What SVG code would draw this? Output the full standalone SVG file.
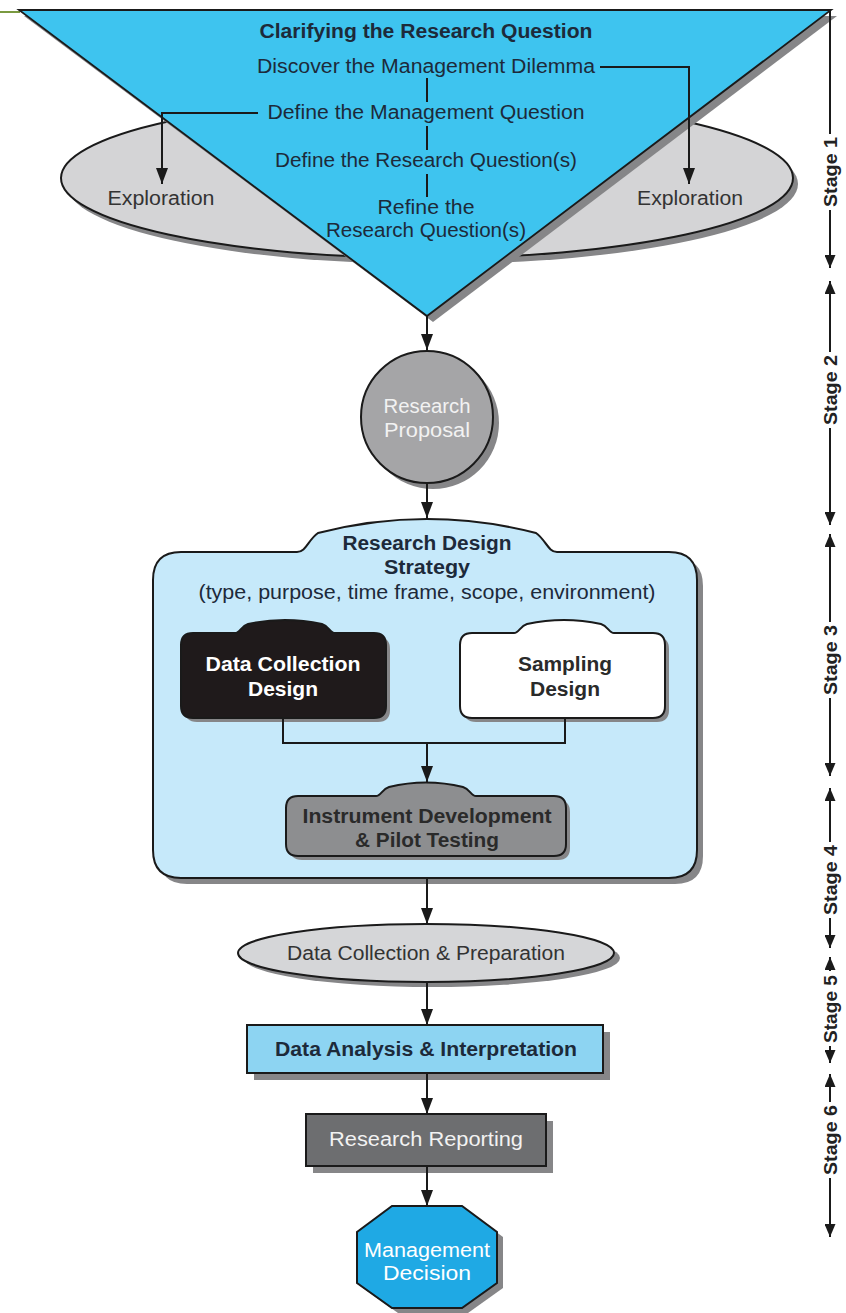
<svg xmlns="http://www.w3.org/2000/svg" width="846" height="1313" viewBox="0 0 846 1313">
<style>
  .t { font-family: "Liberation Sans", Arial, sans-serif; font-size: 20px; text-anchor: middle; }
  .b { font-weight: bold; }
  .navy { fill: #1d2a3a; }
  .dark { fill: #2a2a2a; }
  .light { fill: #f2f2f2; }
  .ln { stroke: #1a1a1a; stroke-width: 2; fill: none; }
  .edge { stroke: #1a1a1a; stroke-width: 2; }
  .shadow { fill: #868688; }
  .stg { font-family: "Liberation Sans", Arial, sans-serif; font-size: 19px; font-weight: bold; text-anchor: middle; fill: #222; }
</style>
<defs>
  <marker id="ah" viewBox="0 0 16 12" markerWidth="16" markerHeight="12" refX="16" refY="6" orient="auto" markerUnits="userSpaceOnUse">
    <path d="M0,0 L16,6 L0,12 Z" fill="#1a1a1a"/>
  </marker>
  <marker id="sh" viewBox="0 0 13 11" markerWidth="13" markerHeight="11" refX="13" refY="5.5" orient="auto" markerUnits="userSpaceOnUse">
    <path d="M0,0 L13,5.5 L0,11 Z" fill="#1a1a1a"/>
  </marker>
</defs>
<rect width="846" height="1313" fill="#ffffff"/>
<line x1="0" y1="12" x2="20" y2="12" stroke="#7a9a40" stroke-width="2"/>

<g id="exploration">
  <ellipse cx="432" cy="184" rx="366" ry="80" class="shadow"/>
  <ellipse cx="427" cy="178" rx="366" ry="80" fill="#d4d4d6" class="edge"/>
  <text class="t" x="161" y="205" textLength="107" lengthAdjust="spacingAndGlyphs" fill="#333">Exploration</text>
  <text class="t" x="690" y="205" textLength="106" lengthAdjust="spacingAndGlyphs" fill="#333">Exploration</text>
</g>

<g id="clarifying">
  <polygon points="24,16 837,16 433,322" class="shadow"/>
  <polygon points="19,10 831,10 427,316" fill="#3ec4ef" stroke="#1a1a1a" stroke-width="1.8" stroke-linejoin="miter"/>
  <text class="t b navy" x="426" y="38" font-size="19" textLength="333" lengthAdjust="spacingAndGlyphs">Clarifying the Research Question</text>
  <text class="t navy" x="426" y="73" textLength="338" lengthAdjust="spacingAndGlyphs">Discover the Management Dilemma</text>
  <text class="t navy" x="426" y="119" textLength="317" lengthAdjust="spacingAndGlyphs">Define the Management Question</text>
  <text class="t navy" x="426" y="167" textLength="302" lengthAdjust="spacingAndGlyphs">Define the Research Question(s)</text>
  <text class="t navy" x="426" y="214" textLength="97" lengthAdjust="spacingAndGlyphs">Refine the</text>
  <text class="t navy" x="426" y="237" textLength="200" lengthAdjust="spacingAndGlyphs">Research Question(s)</text>
</g>

<g id="research-proposal">
  <circle cx="433" cy="423" r="66" class="shadow"/>
  <circle cx="427" cy="417" r="66" fill="#a5a5a7" class="edge"/>
  <text class="t light" x="427" y="413" textLength="87" lengthAdjust="spacingAndGlyphs">Research</text>
  <text class="t light" x="427" y="437" textLength="86" lengthAdjust="spacingAndGlyphs">Proposal</text>
</g>

<g id="research-design-strategy">
  <path transform="translate(6,6)" class="shadow" d="M181,552 H297 C306,552 308,540 318,533 Q427,505 536,533 C546,540 548,552 557,552 H669 Q697,552 697,580 V850 Q697,878 669,878 H181 Q153,878 153,850 V580 Q153,552 181,552 Z"/>
  <path fill="#c6e9fa" class="edge" d="M181,552 H297 C306,552 308,540 318,533 Q427,505 536,533 C546,540 548,552 557,552 H669 Q697,552 697,580 V850 Q697,878 669,878 H181 Q153,878 153,850 V580 Q153,552 181,552 Z"/>
  <text class="t b navy" x="427" y="550" textLength="169" lengthAdjust="spacingAndGlyphs">Research Design</text>
  <text class="t b navy" x="427" y="574" textLength="86" lengthAdjust="spacingAndGlyphs">Strategy</text>
  <text class="t navy" x="427" y="599" textLength="457" lengthAdjust="spacingAndGlyphs">(type, purpose, time frame, scope, environment)</text>
</g>

<g id="data-collection-design">
  <path transform="translate(4,4)" class="shadow" d="M193,633 H235 C240,633 241,626 248,624 Q285,616 322,624 C329,626 330,633 335,633 H374 Q386,633 386,645 V706 Q386,718 374,718 H193 Q181,718 181,706 V645 Q181,633 193,633 Z"/>
  <path fill="#1f1a1b" class="edge" d="M193,633 H235 C240,633 241,626 248,624 Q285,616 322,624 C329,626 330,633 335,633 H374 Q386,633 386,645 V706 Q386,718 374,718 H193 Q181,718 181,706 V645 Q181,633 193,633 Z"/>
  <text class="t b" fill="#ffffff" x="283" y="671" textLength="155" lengthAdjust="spacingAndGlyphs">Data Collection</text>
  <text class="t b" fill="#ffffff" x="283" y="696" textLength="70" lengthAdjust="spacingAndGlyphs">Design</text>
</g>

<g id="sampling-design">
  <path transform="translate(283,4)" class="shadow" d="M193,633 H235 C240,633 241,626 248,624 Q285,616 322,624 C329,626 330,633 335,633 H374 Q386,633 386,645 V706 Q386,718 374,718 H193 Q181,718 181,706 V645 Q181,633 193,633 Z"/>
  <path transform="translate(279,0)" fill="#ffffff" class="edge" d="M193,633 H235 C240,633 241,626 248,624 Q285,616 322,624 C329,626 330,633 335,633 H374 Q386,633 386,645 V706 Q386,718 374,718 H193 Q181,718 181,706 V645 Q181,633 193,633 Z"/>
  <text class="t b dark" x="565" y="671" textLength="94" lengthAdjust="spacingAndGlyphs">Sampling</text>
  <text class="t b dark" x="565" y="696" textLength="70" lengthAdjust="spacingAndGlyphs">Design</text>
</g>

<g id="instrument-development">
  <path transform="translate(4,4)" class="shadow" d="M298,796 H376 C381,796 382,789 389,787 Q426,778 463,787 C470,789 471,796 476,796 H554 Q566,796 566,808 V844 Q566,856 554,856 H298 Q286,856 286,844 V808 Q286,796 298,796 Z"/>
  <path fill="#8d8e90" class="edge" d="M298,796 H376 C381,796 382,789 389,787 Q426,778 463,787 C470,789 471,796 476,796 H554 Q566,796 566,808 V844 Q566,856 554,856 H298 Q286,856 286,844 V808 Q286,796 298,796 Z"/>
  <text class="t b dark" x="427" y="823" textLength="249" lengthAdjust="spacingAndGlyphs">Instrument Development</text>
  <text class="t b dark" x="427" y="847" textLength="144" lengthAdjust="spacingAndGlyphs">&amp; Pilot Testing</text>
</g>

<g id="data-collection-preparation">
  <ellipse cx="432" cy="958" rx="188" ry="29" class="shadow"/>
  <ellipse cx="426" cy="953" rx="188" ry="29" fill="#d5d6d8" class="edge"/>
  <text class="t" fill="#333" x="426" y="960" textLength="278" lengthAdjust="spacingAndGlyphs">Data Collection &amp; Preparation</text>
</g>

<g id="data-analysis">
  <rect x="254" y="1032" width="356" height="48" class="shadow"/>
  <rect x="247" y="1025" width="356" height="48" fill="#8dd4f2" class="edge"/>
  <text class="t b navy" x="426" y="1056" textLength="302" lengthAdjust="spacingAndGlyphs">Data Analysis &amp; Interpretation</text>
</g>

<g id="research-reporting">
  <rect x="313" y="1121" width="240" height="52" class="shadow"/>
  <rect x="306" y="1114" width="240" height="52" fill="#6d6e70" class="edge"/>
  <text class="t light" font-size="21" x="426" y="1146" textLength="194" lengthAdjust="spacingAndGlyphs">Research Reporting</text>
</g>

<g id="management-decision">
  <polygon transform="translate(6,5)" class="shadow" points="392,1206 462,1206 497,1232 497,1283 462,1308 392,1308 357,1283 357,1232"/>
  <polygon points="392,1206 462,1206 497,1232 497,1283 462,1308 392,1308 357,1283 357,1232" fill="#1fa9e4" class="edge"/>
  <text class="t" fill="#ffffff" font-size="21" x="427" y="1257" textLength="126" lengthAdjust="spacingAndGlyphs">Management</text>
  <text class="t" fill="#ffffff" font-size="21" x="427" y="1280" textLength="88" lengthAdjust="spacingAndGlyphs">Decision</text>
</g>

<g id="connectors">
  <path class="ln" d="M600,67 H689 V184" marker-end="url(#ah)"/>
  <path class="ln" d="M258,113 H162 V184" marker-end="url(#ah)"/>
  <line class="ln" x1="427" y1="78" x2="427" y2="102"/>
  <line class="ln" x1="427" y1="126" x2="427" y2="150"/>
  <line class="ln" x1="427" y1="174" x2="427" y2="197"/>
  <line class="ln" x1="427" y1="316" x2="427" y2="350" marker-end="url(#ah)"/>
  <line class="ln" x1="427" y1="484" x2="427" y2="518" marker-end="url(#ah)"/>
  <path class="ln" d="M283,718 V743 H565 V718"/>
  <line class="ln" x1="427" y1="743" x2="427" y2="782" marker-end="url(#ah)"/>
  <line class="ln" x1="427" y1="878" x2="427" y2="924" marker-end="url(#ah)"/>
  <line class="ln" x1="427" y1="982" x2="427" y2="1025" marker-end="url(#ah)"/>
  <line class="ln" x1="427" y1="1073" x2="427" y2="1114" marker-end="url(#ah)"/>
  <line class="ln" x1="427" y1="1166" x2="427" y2="1206" marker-end="url(#ah)"/>
</g>

<g id="stage-rail">
  <line class="ln" x1="830" y1="10" x2="830" y2="134"/>
  <line class="ln" x1="830" y1="210" x2="830" y2="268" marker-end="url(#sh)"/>
  <text class="stg" transform="translate(837,172) rotate(-90)" textLength="70" lengthAdjust="spacingAndGlyphs">Stage 1</text>

  <line class="ln" x1="830" y1="352" x2="830" y2="281" marker-end="url(#sh)"/>
  <line class="ln" x1="830" y1="428" x2="830" y2="525" marker-end="url(#sh)"/>
  <text class="stg" transform="translate(837,390) rotate(-90)" textLength="70" lengthAdjust="spacingAndGlyphs">Stage 2</text>

  <line class="ln" x1="830" y1="622" x2="830" y2="534" marker-end="url(#sh)"/>
  <line class="ln" x1="830" y1="698" x2="830" y2="776" marker-end="url(#sh)"/>
  <text class="stg" transform="translate(837,660) rotate(-90)" textLength="70" lengthAdjust="spacingAndGlyphs">Stage 3</text>

  <line class="ln" x1="830" y1="842" x2="830" y2="788" marker-end="url(#sh)"/>
  <line class="ln" x1="830" y1="918" x2="830" y2="948" marker-end="url(#sh)"/>
  <text class="stg" transform="translate(837,880) rotate(-90)" textLength="70" lengthAdjust="spacingAndGlyphs">Stage 4</text>

  <line class="ln" x1="830" y1="971" x2="830" y2="957" marker-end="url(#sh)"/>
  <line class="ln" x1="830" y1="1046" x2="830" y2="1063" marker-end="url(#sh)"/>
  <text class="stg" transform="translate(837,1009) rotate(-90)" textLength="68" lengthAdjust="spacingAndGlyphs">Stage 5</text>

  <line class="ln" x1="830" y1="1102" x2="830" y2="1074" marker-end="url(#sh)"/>
  <line class="ln" x1="830" y1="1178" x2="830" y2="1237" marker-end="url(#sh)"/>
  <text class="stg" transform="translate(837,1140) rotate(-90)" textLength="70" lengthAdjust="spacingAndGlyphs">Stage 6</text>
</g>
</svg>
